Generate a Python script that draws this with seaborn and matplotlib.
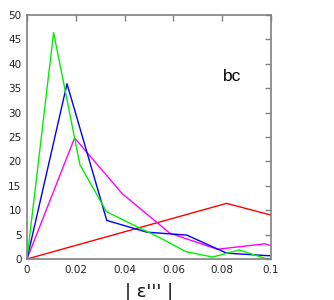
import matplotlib
matplotlib.use("Agg")
import matplotlib.pyplot as plt
import seaborn as sns
import numpy as np

# Data
green_x = [0.0, 0.0109, 0.0217, 0.0326, 0.0435, 0.0543, 0.0652, 0.0761, 0.0870, 0.0978, 0.1087]
green_y = [0.0, 46.4, 19.3, 9.7, 7.0, 4.4, 1.5, 0.4, 1.85, 0.1, 0.0]

blue_x = [0.0, 0.0164, 0.0327, 0.0491, 0.0655, 0.0818, 0.0982, 0.1145]
blue_y = [0.0, 35.9, 7.9, 5.5, 4.9, 1.2, 0.7, 0.5]

magenta_x = [0.0, 0.0195, 0.0390, 0.0585, 0.0780, 0.0975, 0.1170]
magenta_y = [0.0, 24.8, 13.4, 5.3, 2.0, 3.1, 0.5]

red_x = [0.0, 0.0818, 0.1636]
red_y = [0.0, 11.4, 0.6]

x_ticks = [0, 0.02, 0.04, 0.06, 0.08, 0.1]
x_ticklabels = ["0", "0.02", "0.04", "0.06", "0.08", "0.1"]
y_ticks = [0, 5, 10, 15, 20, 25, 30, 35, 40, 45, 50]

sns.set_style("white")
plt.rcParams['font.family'] = ['DejaVu Sans']

fig = plt.figure(figsize=(3.34, 3.00), dpi=100)
ax = fig.add_axes([27/334, 41/300, 244/334, 244/300])

series = [
    (red_x, red_y, "#ff0000"),
    (magenta_x, magenta_y, "#ff00ff"),
    (blue_x, blue_y, "#0000ff"),
    (green_x, green_y, "#00f000"),
]
for xs, ys, c in series:
    sns.lineplot(x=xs, y=ys, ax=ax, color=c, linewidth=1.0, sort=False)

ax.set_xlim(0, 0.1)
ax.set_ylim(0, 50)
ax.set_xticks(x_ticks)
ax.set_xticklabels(x_ticklabels)
ax.set_yticks(y_ticks)
ax.tick_params(direction="in", length=4, width=1, color="#808080",
               top=True, right=True, labelsize=7.5, pad=4,
               labelcolor="#222222")
for s in ax.spines.values():
    s.set_color("#808080")
    s.set_linewidth(1.2)
    s.set_visible(True)

ax.set_xlabel("| ε''' |", fontsize=13, labelpad=6, color="#111111")
ax.text(0.0840, 37.3, "bc", fontsize=12.5, family="Liberation Sans",
        ha="center", va="center", color="black")

fig.savefig("out.png", dpi=100)
